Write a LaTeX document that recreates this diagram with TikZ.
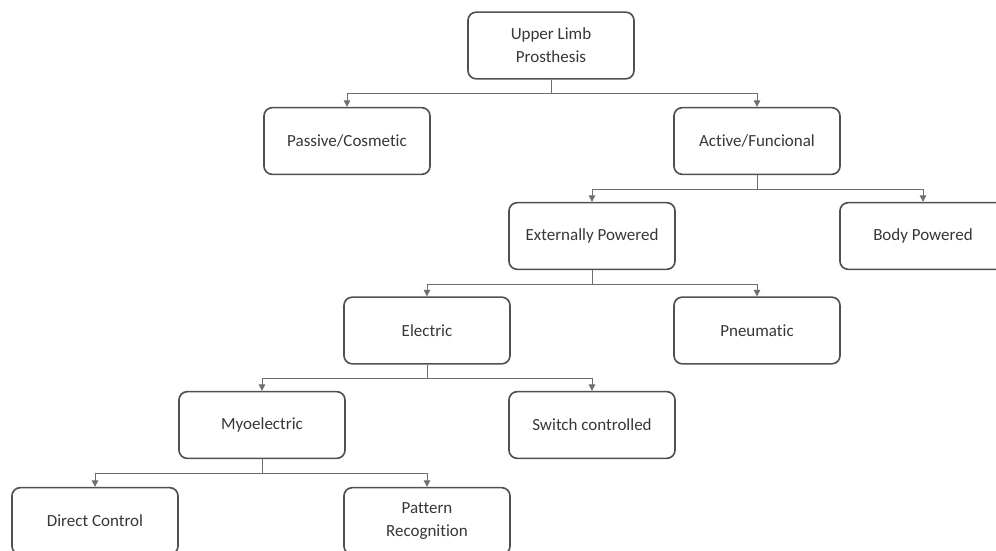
\documentclass[tikz,border=0pt]{standalone}
\usepackage{fontspec}
\setmainfont{Carlito}[Ligatures=NoCommon]
\usetikzlibrary{arrows.meta}
\definecolor{BoxLine}{RGB}{80, 80, 80}
\definecolor{LinkGray}{RGB}{110, 110, 110}
\definecolor{LabelGray}{RGB}{55, 55, 55}

\begin{document}
\begin{tikzpicture}[x=0.03cm, y=-0.03cm,
        every node/.style={font=\fontsize{14.5}{19.5}\selectfont, text=LabelGray},
        limbbox/.style={draw=BoxLine, line width=1.4pt, rounded corners=7pt,
            minimum width=4.98cm, minimum height=2.0cm, align=center, fill=white},
        branch/.style={draw=LinkGray, line width=0.8pt, -{Triangle[length=5.5pt, width=5.5pt]}}]

        \useasboundingbox (0,0) rectangle (996,550);

        % --- Level 0 and 1 ---
        \node[limbbox] (upper) at (551, 45.5) {Upper Limb\\Prosthesis};
        \node[limbbox] (passive) at (347, 141) {Passive/Cosmetic};
        \node[limbbox] (active) at (757, 141) {Active/Funcional};

        % --- Level 2 and 3 ---
        \node[limbbox] (external) at (592, 236) {Externally Powered};
        \node[limbbox] (body) at (923, 236) {Body Powered};
        \node[limbbox] (electric) at (427, 330.5) {Electric};
        \node[limbbox] (pneumatic) at (757, 330.5) {Pneumatic};

        % --- Level 4 and 5 ---
        \node[limbbox] (myo) at (262, 425) {Myoelectric};
        \node[limbbox] (switch) at (592, 425) {Switch controlled};
        \node[limbbox] (direct) at (95, 521) {Direct Control};
        \node[limbbox] (pattern) at (427, 521) {Pattern\\Recognition};

        % Branches: down from parent, across, down into child
        \draw[branch] (upper.south) -- ++(0,14) -| (passive.north);
        \draw[branch] (upper.south) -- ++(0,14) -| (active.north);
        \draw[branch] (active.south) -- ++(0,14) -| (external.north);
        \draw[branch] (active.south) -- ++(0,14) -| (body.north);
        \draw[branch] (external.south) -- ++(0,14) -| (electric.north);
        \draw[branch] (external.south) -- ++(0,14) -| (pneumatic.north);
        \draw[branch] (electric.south) -- ++(0,14) -| (myo.north);
        \draw[branch] (electric.south) -- ++(0,14) -| (switch.north);
        \draw[branch] (myo.south) -- ++(0,14) -| (direct.north);
        \draw[branch] (myo.south) -- ++(0,14) -| (pattern.north);

    \end{tikzpicture}
\end{document}
